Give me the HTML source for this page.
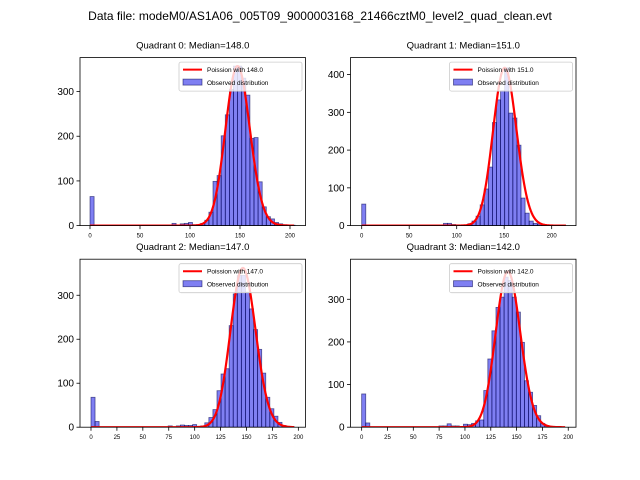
<!DOCTYPE html>
<html><head><meta charset="utf-8"><style>
body{margin:0;background:#fff;}
svg{display:block;font-family:"Liberation Sans","DejaVu Sans",sans-serif;}
</style></head><body>
<svg id="fig" width="640" height="480" viewBox="0 0 640 480">
<rect width="640" height="480" fill="#fff"/>
<text x="320" y="20" text-anchor="middle" font-size="12">Data file: modeM0/AS1A06_005T09_9000003168_21466cztM0_level2_quad_clean.evt</text>
</svg>
<script>
const titles = ["Quadrant 0: Median=148.0","Quadrant 1: Median=151.0","Quadrant 2: Median=147.0","Quadrant 3: Median=142.0"];
const medians = [148, 151, 147, 142];
const binWidths = [4.1, 4.3, 3.92, 3.94];
const curvePeaks = [357, 418, 362, 365];
const countsQ0 = [65,0,0,0,0,0,0,0,0,0,0,0,0,0,0,0,0,0,0,0,5,0,4,5,7,2,2,5,12,30,99,112,201,248,305,357,357,330,292,195,197,98,42,20,15,7,4,2,1,1];
const countsQ1 = [57,0,0,0,0,0,0,0,0,0,0,0,0,0,0,0,0,0,0,0,6,6,3,2,0,0,5,12,25,55,97,155,273,333,357,418,298,285,213,73,33,12,6,4,3,2,1,1,1,0];
const countsQ2 = [68,13,0,0,0,0,0,0,0,0,0,0,0,0,0,0,0,0,0,3,0,3,5,4,4,6,2,3,10,22,40,83,121,133,231,303,345,345,307,269,222,177,123,68,42,25,11,4,2,1];
const countsQ3 = [78,10,0,0,0,0,0,0,0,0,0,0,0,0,0,0,0,0,0,3,3,8,3,3,0,7,6,9,15,17,86,160,226,281,305,352,344,305,270,199,109,82,51,27,9,4,2,1,1,0];
const allCounts = [countsQ0, countsQ1, countsQ2, countsQ3];
const xTicksTop = [0,50,100,150,200];
const xTicksBottom = [0,25,50,75,100,125,150,175,200];
const yTicksQ0 = [0,100,200,300];
const yTicksQ1 = [0,100,200,300,400];
const yTicksQ2 = [0,100,200,300];
const yTicksQ3 = [0,100,200,300];
const allYTicks = [yTicksQ0,yTicksQ1,yTicksQ2,yTicksQ3];
const xLims = [[-10,215.5],[-11.8,225.6],[-10.6,206.9],[-10.8,207.5]];
const yMaxes = [376,445,382,394];

const NS="http://www.w3.org/2000/svg";
const svg=document.getElementById('fig');
function mk(tag,attrs,parent){const e=document.createElementNS(NS,tag);for(const k in attrs)e.setAttribute(k,attrs[k]);(parent||svg).appendChild(e);return e;}
function lnfact(k){let s=0;for(let i=2;i<=k;i++)s+=Math.log(i);return s;}
function lpmf(k,l){return k*Math.log(l)-l-lnfact(k);}

const boxes=[[80,57.6],[350.5,57.6],[80,259.2],[350.5,259.2]];
const W=225.5,H=168;
for(let q=0;q<4;q++){
  const [x0,y0]=boxes[q];
  const g=mk('g',{});
  
  
  const xl=xLims[q], ym=yMaxes[q];
  const sx=v=>x0+(v-xl[0])/(xl[1]-xl[0])*W;
  const sy=v=>y0+H-v/ym*H;
  const t=mk('text',{x:x0+W/2,y:y0-9,'text-anchor':'middle','font-size':'9.5'},g);
  t.textContent=titles[q];
  
  
  const clip=mk('clipPath',{id:'c'+q},g);mk('rect',{x:x0,y:y0,width:W,height:H},clip);
  const bg=mk('g',{'clip-path':'url(#c'+q+')'},g);
  const c=allCounts[q],w=binWidths[q];
  for(let i=0;i<c.length;i++){
    if(c[i]<=0)continue;
    const r=mk('rect',{x:sx(i*w),y:sy(c[i]),width:sx((i+1)*w)-sx(i*w),height:sy(0)-sy(c[i]),fill:'rgba(0,0,230,0.5)',stroke:'rgba(0,0,80,0.6)','stroke-width':'0.8'},bg);
    
    
  }
  const lam=medians[q],mx=c.length*w,pk=lpmf(Math.round(lam),lam);
  let d='';
  for(let k=0;k<=Math.floor(mx);k++){const v=curvePeaks[q]*Math.exp(lpmf(k,lam)-pk);d+=(k?'L':'M')+sx(k).toFixed(2)+','+sy(v).toFixed(2);}
  const p=mk('path',{d:d,fill:'none',stroke:'#f00','stroke-width':'2.2','stroke-linejoin':'round'},bg);
  
  
  const fr=mk('rect',{x:x0,y:y0,width:W,height:H,fill:'none',stroke:'#000','stroke-width':'0.8'},g);
  
  
  const xt=q<2?xTicksTop:xTicksBottom;
  for(const v of xt){
    mk('line',{x1:sx(v),x2:sx(v),y1:y0+H,y2:y0+H+3.5,stroke:'#000','stroke-width':'0.8'},g);
    const tt=mk('text',{x:sx(v),y:y0+H+12,'text-anchor':'middle','font-size':'6'},g);
    tt.textContent=v;
    
    
  }
  for(const v of allYTicks[q]){
    mk('line',{x1:x0-3.5,x2:x0,y1:sy(v),y2:sy(v),stroke:'#000','stroke-width':'0.8'},g);
    const tt=mk('text',{x:x0-6,y:sy(v)+3.5,'text-anchor':'end','font-size':'10'},g);
    tt.textContent=v;
    
    
  }
  const lg=mk('g',{},g);
  
  
  const lx=x0+W-126.5,ly=y0+4.5;
  mk('rect',{x:lx,y:ly,width:123,height:29,fill:'rgba(255,255,255,0.8)',stroke:'#ccc','stroke-width':'0.8',rx:2},lg);
  mk('line',{x1:lx+4,x2:lx+23,y1:ly+7.5,y2:ly+7.5,stroke:'#f00','stroke-width':'2'},lg);
  const l1=mk('text',{x:lx+28,y:ly+10,'font-size':'6.5'},lg);l1.textContent='Poission with '+medians[q].toFixed(1);
  
  
  mk('rect',{x:lx+4,y:ly+17,width:19,height:6,fill:'rgba(0,0,230,0.5)',stroke:'rgba(0,0,80,0.6)','stroke-width':'0.8'},lg);
  const l2=mk('text',{x:lx+28,y:ly+23,'font-size':'6.5'},lg);l2.textContent='Observed distribution';
  
  
}
</script>
</body></html>
